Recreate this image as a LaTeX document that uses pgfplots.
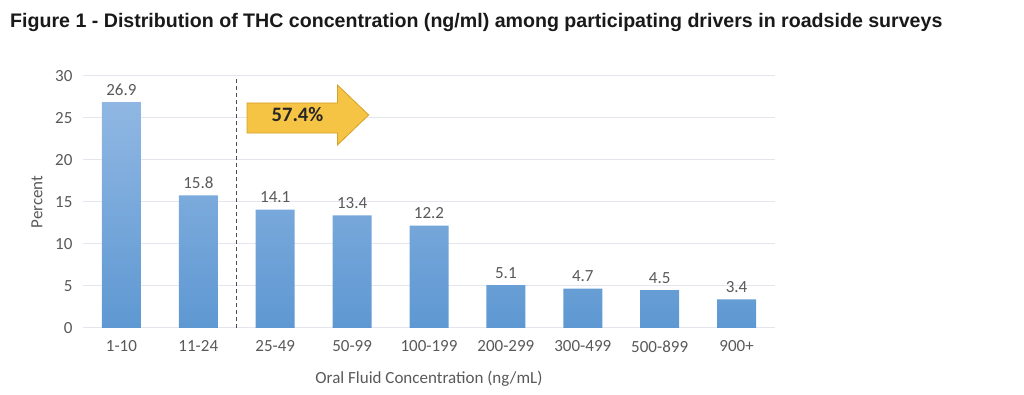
\documentclass[border=0pt]{standalone}
\usepackage{fontspec}
\setmainfont{Carlito}
\newfontfamily\arialfont{Liberation Sans}
\usepackage{pgfplots}
\pgfplotsset{compat=1.18}
\definecolor{txt}{HTML}{595959}
\definecolor{gridc}{HTML}{E3E6EC}
\definecolor{bartop}{HTML}{90B7E3}
\definecolor{barbot}{HTML}{5E98D2}
\definecolor{arrowfill}{HTML}{F6C445}
\definecolor{arrowdraw}{HTML}{D4A12C}
\begin{document}
\begin{tikzpicture}[x=1pt,y=1pt]
\path (0,0) rectangle (1024,395);
\node[anchor=west, font=\arialfont\bfseries\fontsize{19.6}{22}\selectfont, inner sep=0pt, text=black!90] at (10,373) {Figure 1 - Distribution of THC concentration (ng/ml) among participating drivers in roadside surveys};
\begin{axis}[
  at={(83pt,67pt)}, anchor=south west,
  scale only axis, width=692pt, height=252pt,
  xmin=-0.5, xmax=8.5, ymin=0, ymax=30,
  ytick={0,5,...,30},
  xtick={0,...,8},
  xticklabels={1-10,11-24,25-49,50-99,100-199,200-299,300-499,500-899,900+},
  ymajorgrids, grid style={gridc, line width=1pt},
  axis line style={draw=none},
  major tick style={draw=none},
  tick label style={font=\fontsize{17}{19}\selectfont, text=txt},
  /pgf/number format/assume math mode=true,
  yticklabel style={xshift=-7pt},
  xticklabel style={yshift=-9pt},
  xlabel={Oral Fluid Concentration (ng/mL)},
  xlabel style={at={(axis description cs:0.5,-0.2)}, anchor=center, font=\fontsize{17}{19}\selectfont, text=txt},
  ylabel={Percent},
  ylabel style={at={(axis description cs:-0.0665,0.5)}, anchor=center, font=\fontsize{17}{19}\selectfont, text=txt},
  clip=false,
]
\addplot[ybar, bar width=39pt, draw=none, top color=bartop, bottom color=barbot,
  nodes near coords, point meta=explicit symbolic,
  nodes near coords style={font=\fontsize{17}{19}\selectfont, text=txt, yshift=3pt}]
  coordinates {(0,26.9)[26.9] (1,15.8)[15.8] (2,14.1)[14.1] (3,13.4)[13.4] (4,12.2)[12.2] (5,5.1)[5.1] (6,4.7)[4.7] (7,4.5)[4.5] (8,3.4)[3.4]};
\draw[black!70, line width=1.3pt, dash pattern=on 4pt off 3pt] (axis cs:1.5,0) -- (axis cs:1.5,30);
\draw[fill=arrowfill, draw=arrowdraw, line width=0.8pt]
  (axis cs:1.634,26.79) -- (axis cs:2.81,26.79) -- (axis cs:2.81,28.93) -- (axis cs:3.216,25.36)
  -- (axis cs:2.81,21.79) -- (axis cs:2.81,23.21) -- (axis cs:1.634,23.21) -- cycle;
\node[font=\bfseries\fontsize{20.5}{22}\selectfont, text=black!85] at (axis cs:2.29,25.36) {57.4\%};
\end{axis}
\end{tikzpicture}
\end{document}
